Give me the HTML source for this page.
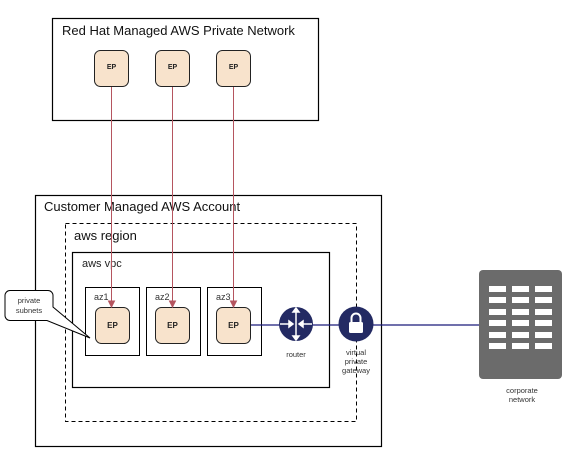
<!DOCTYPE html>
<html><head><style>
html,body{margin:0;padding:0;background:#fff;}
svg{display:block;font-family:"Liberation Sans",Arial,sans-serif;}
</style></head><body>
<svg width="570" height="461" viewBox="0 0 570 461" xmlns="http://www.w3.org/2000/svg">
<rect width="570" height="461" fill="#fff"/>
<rect x="52.5" y="18.5" width="266" height="102" fill="none" stroke="#000" stroke-width="1.2"/>
<text x="62" y="35" font-size="13" fill="#111">Red Hat Managed AWS Private Network</text>
<g fill="#f8e3cc" stroke="#222" stroke-width="1">
<rect x="94.5" y="50.5" width="34" height="36" rx="6"/>
<rect x="155.5" y="50.5" width="34" height="36" rx="6"/>
<rect x="216.5" y="50.5" width="34" height="36" rx="6"/>
</g>
<g font-size="7" font-weight="bold" text-anchor="middle" fill="#222">
<text x="111.5" y="69">EP</text><text x="172.5" y="69">EP</text><text x="233.5" y="69">EP</text>
</g>
<rect x="35.5" y="195.5" width="346" height="251" fill="none" stroke="#000" stroke-width="1.2"/>
<text x="44" y="211" font-size="13" fill="#111">Customer Managed AWS Account</text>
<rect x="65.5" y="223.5" width="291" height="198" fill="none" stroke="#000" stroke-width="1" stroke-dasharray="4,3"/>
<text x="74" y="240" font-size="13" fill="#111">aws region</text>
<rect x="72.5" y="252.5" width="257" height="135" fill="none" stroke="#000" stroke-width="1.2"/>
<text x="82" y="267" font-size="11" fill="#222">aws vpc</text>
<g fill="none" stroke="#000" stroke-width="1">
<rect x="85.5" y="287.5" width="54" height="68"/>
<rect x="146.5" y="287.5" width="54" height="68"/>
<rect x="207.5" y="287.5" width="54" height="68"/>
</g>
<g font-size="9" fill="#333"><text x="94" y="300">az1</text><text x="155" y="300">az2</text><text x="216" y="300">az3</text></g>
<line x1="250" y1="325" x2="480" y2="325" stroke="#1a1a7a" stroke-width="1.3"/>
<g fill="#f8e3cc" stroke="#222" stroke-width="1">
<rect x="95.5" y="307.5" width="34" height="36" rx="6"/>
<rect x="155.5" y="307.5" width="34" height="36" rx="6"/>
<rect x="216.5" y="307.5" width="34" height="36" rx="6"/>
</g>
<g font-size="8" font-weight="bold" text-anchor="middle" fill="#222">
<text x="112.5" y="328">EP</text><text x="172.5" y="328">EP</text><text x="233.5" y="328">EP</text>
</g>
<g stroke="#b5555f" stroke-width="1" fill="#b5555f">
<line x1="111.5" y1="87" x2="111.5" y2="303"/><path d="M108.5 301 L111.5 307 L114.5 301 Z"/>
<line x1="172.5" y1="87" x2="172.5" y2="303"/><path d="M169.5 301 L172.5 307 L175.5 301 Z"/>
<line x1="233.5" y1="87" x2="233.5" y2="303"/><path d="M230.5 301 L233.5 307 L236.5 301 Z"/>
</g>
<circle cx="296" cy="324" r="17" fill="#232a63"/>
<g stroke="#fff" stroke-width="1.5" fill="#fff">
<line x1="296" y1="309" x2="296" y2="339"/>
<line x1="280" y1="324" x2="292" y2="324"/><line x1="300" y1="324" x2="312" y2="324"/>
<path d="M296 308 L293 312 L299 312 Z M296 340 L293 336 L299 336 Z M293 324 L289 321 L289 327 Z M299 324 L303 321 L303 327 Z"/>
</g>
<text x="296" y="357" font-size="7.5" text-anchor="middle" fill="#333">router</text>
<circle cx="356" cy="324" r="17.5" fill="#232a63"/>
<rect x="349" y="322" width="14" height="11" rx="1.5" fill="#fff"/>
<path d="M351.5 322 V318 a4.5 4.5 0 0 1 9 0 V322" fill="none" stroke="#fff" stroke-width="2"/>
<g font-size="7.5" text-anchor="middle" fill="#333">
<text x="356" y="355">virtual</text><text x="356" y="364">private</text><text x="356" y="373">gateway</text>
</g>
<rect x="479" y="270" width="83" height="109" rx="4" fill="#6b6b6b"/>
<g fill="#fff">
<rect x="489" y="286" width="17" height="6"/><rect x="512" y="286" width="17" height="6"/><rect x="535" y="286" width="17" height="6"/>
<rect x="489" y="297" width="17" height="6"/><rect x="512" y="297" width="17" height="6"/><rect x="535" y="297" width="17" height="6"/>
<rect x="489" y="309" width="17" height="6"/><rect x="512" y="309" width="17" height="6"/><rect x="535" y="309" width="17" height="6"/>
<rect x="489" y="320" width="17" height="6"/><rect x="512" y="320" width="17" height="6"/><rect x="535" y="320" width="17" height="6"/>
<rect x="489" y="332" width="17" height="6"/><rect x="512" y="332" width="17" height="6"/><rect x="535" y="332" width="17" height="6"/>
<rect x="489" y="343" width="17" height="6"/><rect x="512" y="343" width="17" height="6"/><rect x="535" y="343" width="17" height="6"/>
</g>
<g font-size="7.5" text-anchor="middle" fill="#333">
<text x="522" y="393">corporate</text><text x="522" y="402">network</text>
</g>
<path d="M10 290.5 H48 a5 5 0 0 1 5 5 V307 L90 338 L47 320.5 H10 a5 5 0 0 1 -5 -5 V295.5 a5 5 0 0 1 5 -5 Z" fill="#fff" stroke="#000" stroke-width="1"/>
<g font-size="7.5" text-anchor="middle" fill="#333">
<text x="29" y="303">private</text><text x="29" y="313">subnets</text>
</g>
</svg>
</body></html>
